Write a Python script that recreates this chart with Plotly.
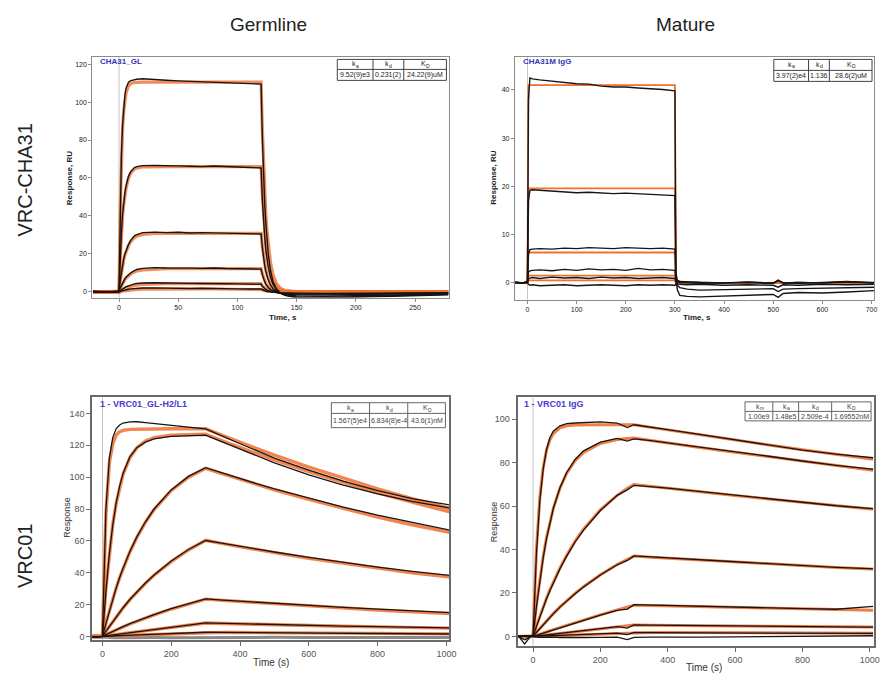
import plotly.graph_objects as go

W, H = 882, 677

# ---------------- Panel 1: CHA31_GL (germline, VRC-CHA31) ----------------
P1_TIME = [-22, -10, 0, 1, 2, 3, 4, 5, 6, 8, 10, 13, 15, 20, 30, 40, 50, 60, 70, 80, 90, 100, 110, 120,
           121, 122, 123, 124, 125, 126, 128, 130, 133, 136, 140, 150, 175, 200, 225, 250, 278]
P1_FIT = [
    [0, 0, 0, 43.5, 69.8, 85.8, 95.5, 101.4, 105, 108.5, 109.8, 110.3, 110.4, 110.5,
     110.5, 110.5, 110.5, 110.5, 110.5, 110.5, 110.5, 110.5, 110.5, 110.5,
     86, 67, 52.2, 40.7, 31.7, 24.7, 15, 9.1, 4.3, 2, 0.7, 0.1, 0, 0, 0, 0, 0],
    [0, 0, 0, 17.1, 29.8, 39.8, 46.2, 51.3, 54.8, 59.9, 62.7, 64.7, 65.3, 65.8,
     66, 66, 66, 66, 66, 66, 66, 66, 66, 66,
     51.4, 40, 31.2, 24.3, 18.9, 14.7, 8.9, 5.4, 2.6, 1.2, 0.4, 0.05, 0, 0, 0, 0, 0],
    [0, 0, 0, 5.6, 10.2, 13.9, 17, 19.5, 21.3, 24.4, 26.6, 28.6, 29.3, 30.3,
     30.8, 30.8, 30.8, 30.8, 30.8, 30.8, 30.8, 30.8, 30.8, 30.8,
     24, 18.7, 14.5, 11.3, 8.8, 6.9, 4.2, 2.5, 1.2, 0.6, 0.2, 0, 0, 0, 0, 0, 0],
    [0, 0, 0, 1.7, 3.1, 4.4, 5.5, 6.5, 7.2, 8.5, 9.5, 10.5, 11, 11.6,
     12.1, 12.2, 12.2, 12.2, 12.2, 12.2, 12.2, 12.2, 12.2, 12.2,
     9.5, 7.4, 5.8, 4.5, 3.5, 2.7, 1.7, 1, 0.5, 0.2, 0.1, 0, 0, 0, 0, 0, 0],
    [0, 0, 0, 0.5, 0.9, 1.3, 1.6, 1.9, 2.2, 2.6, 3, 3.4, 3.6, 3.9,
     4.2, 4.3, 4.3, 4.3, 4.3, 4.3, 4.3, 4.3, 4.3, 4.3,
     3.3, 2.6, 2, 1.6, 1.2, 1, 0.6, 0.4, 0.2, 0.1, 0, 0, 0, 0, 0, 0, 0],
    [0, 0, 0, 0.2, 0.3, 0.4, 0.5, 0.6, 0.7, 0.9, 1, 1.2, 1.3, 1.4,
     1.5, 1.5, 1.5, 1.5, 1.5, 1.5, 1.5, 1.5, 1.5, 1.5,
     1.2, 0.9, 0.7, 0.5, 0.4, 0.3, 0.2, 0.1, 0.05, 0, 0, 0, 0, 0, 0, 0, 0],
]
P1_DATA = [
    [0.3, -0.2, 0.5, 45, 72, 88, 98, 104, 107.5, 110.5, 111.3, 111.8, 112, 112.3,
     111.8, 111.5, 111.2, 111, 110.8, 110.5, 110.3, 110.1, 110, 109.5,
     82, 62, 47, 36, 27, 20, 11, 5.5, 1.5, -0.5, -1.8, -3.2, -3.3, -2.8, -2.4, -2, -1.5],
    [0.2, -0.1, 0.3, 18, 31, 41, 47.5, 52.5, 56, 61, 63.5, 65.5, 66, 66.5,
     66.6, 66.3, 66.4, 66.2, 66, 66.3, 66.1, 65.8, 65.6, 65.3,
     49, 37.5, 29, 22, 17, 13, 7.5, 4, 1.2, -0.5, -1.5, -2.8, -2.9, -2.5, -2.1, -1.7, -1.3],
    [0.1, 0, 0.2, 6, 10.8, 14.5, 17.5, 20, 22, 25, 27.3, 29.5, 30.2, 31.2,
     31.5, 31.2, 31.4, 31, 31.2, 31, 30.8, 30.9, 30.6, 30.5,
     23.5, 18, 14, 10.8, 8.2, 6.3, 3.5, 1.8, 0.3, -0.6, -1.3, -2.2, -2.3, -2, -1.7, -1.4, -1.1],
    [0, 0.1, 0.2, 2, 3.5, 4.8, 5.9, 7, 7.8, 9.1, 10.1, 11.2, 11.8, 12.4,
     12.8, 12.6, 12.7, 12.5, 12.4, 12.6, 12.3, 12.2, 12.1, 12,
     9.2, 7, 5.4, 4.1, 3.1, 2.3, 1.2, 0.5, -0.2, -0.7, -1.1, -1.6, -1.7, -1.5, -1.2, -1, -0.8],
    [0.2, 0, 0.1, 0.6, 1.1, 1.6, 2, 2.4, 2.7, 3.2, 3.7, 4.2, 4.4, 4.7,
     4.8, 4.6, 4.7, 4.5, 4.4, 4.5, 4.3, 4.2, 4.1, 4,
     3, 2.3, 1.7, 1.3, 0.9, 0.6, 0.2, -0.1, -0.4, -0.6, -0.8, -1.1, -1.2, -1, -0.9, -0.7, -0.6],
    [0.1, -0.1, 0, 0.3, 0.5, 0.7, 0.9, 1.1, 1.2, 1.4, 1.6, 1.8, 1.9, 2,
     2.1, 1.9, 2, 1.8, 1.9, 1.7, 1.8, 1.6, 1.5, 1.5,
     1.1, 0.8, 0.6, 0.4, 0.2, 0.1, -0.1, -0.2, -0.4, -0.5, -0.6, -0.7, -0.8, -0.7, -0.6, -0.5, -0.4],
]

# ---------------- Panel 2: CHA31M IgG (mature, VRC-CHA31) ----------------
P2_TIME = [-25, -10, 0, 2, 5, 10, 25, 50, 75, 100, 125, 150, 175, 200, 225, 250, 275, 300,
           302, 305, 310, 325, 350, 400, 450, 500, 510, 520, 550, 600, 650, 705]
P2_FIT = [
    [0, 0, 0, 41, 41, 41, 41, 41, 41, 41, 41, 41, 41, 41, 41, 41, 41, 41,
     0, 0, 0, 0, 0, 0, 0, 0, 0, 0, 0, 0, 0, 0],
    [0, 0, 0, 19.6, 19.6, 19.6, 19.6, 19.6, 19.6, 19.6, 19.6, 19.6, 19.6, 19.6, 19.6, 19.6, 19.6, 19.6,
     0, 0, 0, 0, 0, 0, 0, 0, 0, 0, 0, 0, 0, 0],
    [0, 0, 0, 6.3, 6.3, 6.3, 6.3, 6.3, 6.3, 6.3, 6.3, 6.3, 6.3, 6.3, 6.3, 6.3, 6.3, 6.3,
     0, 0, 0, 0, 0, 0, 0, 0, 0, 0, 0, 0, 0, 0],
    [0, 0, 0, 1.5, 1.5, 1.5, 1.5, 1.5, 1.5, 1.5, 1.5, 1.5, 1.5, 1.5, 1.5, 1.5, 1.5, 1.5,
     0, 0, 0, 0, 0, 0, 0, 0, 0, 0, 0, 0, 0, 0],
    [0, 0, 0, 0.5, 0.5, 0.5, 0.5, 0.5, 0.5, 0.5, 0.5, 0.5, 0.5, 0.5, 0.5, 0.5, 0.5, 0.5,
     0, 0, 0, 0, 0, 0, 0, 0, 0, 0, 0, 0, 0, 0],
]
P2_DATA = [
    [0.2, 0, 0.3, 38, 42.5, 42.3, 42.1, 41.8, 41.6, 41.3, 41.2, 40.8, 40.6, 40.6, 40.4, 40.3, 40.1, 39.8,
     2, 0.5, 0.3, 0.2, 0.1, 0, 0.1, -0.1, 0.5, 0, 0.1, 0, 0.2, 0.1],
    [0.1, 0, 0.2, 17, 19.2, 19.3, 19.2, 19, 18.8, 18.7, 18.8, 18.6, 18.5, 18.6, 18.5, 18.4, 18.3, 18.1,
     1, -1.5, -2.6, -2.8, -2.9, -2.7, -2.6, -2.4, -3, -2.2, -2, -2.1, -1.9, -1.6],
    [0, 0.1, 0.1, 6, 6.9, 7, 7.1, 7, 7.2, 7.1, 7.3, 7.2, 7.1, 7.3, 7.2, 7.1, 7.2, 7,
     0.3, -0.5, -1, -1.3, -1.5, -1.4, -1.3, -1.2, -1.8, -1.3, -1.2, -1.1, -1, -0.9],
    [0.1, 0, 0.2, 2.2, 2.5, 2.6, 2.7, 2.5, 2.8, 2.6, 2.9, 2.7, 2.8, 2.6, 3, 2.7, 2.8, 2.6,
     0.5, 0.2, 0.3, 0.2, 0.1, 0, 0.2, -0.1, 0.6, 0, -0.1, 0.1, 0.3, 0],
    [0, -0.1, 0.1, 0.8, 1, 1.1, 0.9, 1.2, 1, 1.1, 0.9, 1.2, 1, 1.1, 0.9, 1, 1.1, 0.9,
     0.2, -0.2, -0.3, -0.4, -0.3, -0.5, -0.4, -0.5, -0.9, -0.4, -0.5, -0.3, -0.4, -0.3],
    [0.1, 0, 0, -0.3, -0.5, -0.4, -0.6, -0.5, -0.4, -0.6, -0.5, -0.4, -0.5, -0.6, -0.4, -0.5, -0.4, -0.5,
     -0.3, 0.2, 0.1, 0, -0.1, 0, 0.1, 0, 0.4, 0, 0.1, 0, 0.2, 0],
]

# ---------------- Panel 3: VRC01_GL-H2/L1 (germline, VRC01) ----------------
P3_TIME = [-30, -10, 0, 10, 20, 30, 40, 50, 60, 80, 100, 125, 150, 200, 250, 300,
           350, 400, 450, 500, 600, 700, 800, 900, 1000, 1010]
P3_FIT = [
    [0, 0, 0, 77, 109, 121, 126.5, 128.6, 129.4, 130, 130.2, 130.3, 130.3, 130.4, 130.5, 130.5,
     126.1, 121.9, 117.8, 113.8, 106.3, 99.3, 92.7, 86.6, 80.9, 80.3],
    [0, 0, 0, 30.1, 53, 70.5, 83.8, 94.1, 101.9, 112.4, 118.5, 122.7, 124.8, 126.4, 126.8, 127,
     122.7, 118.6, 114.6, 110.8, 103.5, 96.6, 90.2, 84.3, 78.7, 78.2],
    [0, 0, 0, 8.5, 16.4, 23.8, 30.6, 36.9, 42.7, 53.2, 62.3, 71.7, 79.6, 91.7, 100, 105.6,
     102.1, 98.6, 95.3, 92.1, 86, 80.3, 75, 70.1, 65.8, 65.4],
    [0, 0, 0, 3.3, 6.4, 9.4, 12.4, 15.2, 17.9, 23.1, 27.8, 33.3, 38.4, 47, 54.3, 60.3,
     58.3, 56.3, 54.4, 52.6, 49.1, 45.9, 42.8, 40, 37.6, 37.3],
    [0, 0, 0, 1, 2.1, 3.1, 4.1, 5, 6, 7.8, 9.5, 11.6, 13.5, 17.2, 20.4, 23.4,
     22.6, 21.9, 21.1, 20.4, 19.1, 17.8, 16.6, 15.5, 14.5, 14.4],
    [0, 0, 0, 0.3, 0.6, 0.9, 1.2, 1.5, 1.8, 2.4, 3, 3.7, 4.4, 5.8, 7.1, 8.4,
     8.1, 7.8, 7.6, 7.3, 6.8, 6.4, 6, 5.6, 5.2, 5.2],
    [0, 0, 0, 0.1, 0.2, 0.3, 0.35, 0.45, 0.55, 0.7, 0.9, 1.1, 1.3, 1.8, 2.2, 2.6,
     2.5, 2.4, 2.35, 2.3, 2.1, 2, 1.85, 1.7, 1.6, 1.6],
]
P3_DATA = [
    [-0.5, -0.3, 0, 80, 112, 125, 130.5, 132.8, 134, 134.7, 134.8, 134.3, 133.8, 132.6, 131.4, 130.3,
     125.5, 121, 116.5, 112, 104.5, 97.5, 91.5, 86.5, 82.9, 82.5],
    [-0.3, -0.2, 0, 28, 52, 70, 84, 94.5, 102.5, 113, 118.5, 122, 124, 125.6, 126.2, 126.4,
     122, 117.5, 113.2, 109, 101.5, 95, 89.5, 84.8, 81, 80.6],
    [-0.3, -0.2, 0, 8, 16, 23.5, 30.5, 37, 43, 53.5, 62.5, 72, 80, 92, 100.5, 106,
     102.5, 99, 95.8, 92.6, 86.8, 81.2, 76.2, 71.5, 67.2, 66.8],
    [-0.2, -0.3, 0, 3.2, 6.3, 9.4, 12.5, 15.3, 18, 23.3, 28, 33.5, 38.6, 47.3, 54.6, 60.2,
     58.4, 56.5, 54.7, 53, 49.6, 46.5, 43.5, 40.8, 38.6, 38.3],
    [-0.4, -0.2, 0, 1.1, 2.2, 3.2, 4.2, 5.1, 6.1, 8, 9.7, 11.8, 13.7, 17.4, 20.7, 23.6,
     22.8, 22.1, 21.4, 20.7, 19.5, 18.2, 17.1, 16, 15, 14.9],
    [-0.3, -0.4, 0, 0.3, 0.6, 0.9, 1.2, 1.5, 1.8, 2.4, 3, 3.7, 4.4, 5.8, 7.1, 8.5,
     8.2, 7.9, 7.6, 7.3, 6.9, 6.5, 6.1, 5.8, 5.5, 5.4],
    [-0.4, -0.3, 0, 0.1, 0.2, 0.3, 0.4, 0.5, 0.6, 0.7, 0.9, 1.1, 1.3, 1.8, 2.2, 2.6,
     2.5, 2.4, 2.3, 2.2, 2.1, 1.9, 1.8, 1.6, 1.5, 1.5],
]
P3_BLANK = [-0.6, -0.5, -0.6, -0.7, -0.6, -0.8, -0.7, -0.6, -0.7, -0.8, -0.7, -0.6, -0.7,
            -0.8, -0.7, -0.6, -0.7, -0.8, -0.7, -0.6, -0.7, -0.8, -0.7, -0.6, -0.7, -0.7]

# ---------------- Panel 4: VRC01 IgG (mature, VRC01) ----------------
P4_TIME = [-45, -25, -5, 0, 10, 20, 30, 40, 50, 60, 80, 100, 125, 150, 200, 250, 280, 300,
           350, 400, 500, 600, 700, 800, 900, 1000, 1010]
P4_FIT = [
    [0, 0, 0, 0, 40, 63.8, 77.6, 85.8, 90.6, 93.4, 96.1, 97, 97.4, 97.5, 97.5, 97.5, 97.5, 97.5,
     96.3, 95.1, 92.7, 90.4, 88.2, 86, 83.9, 81.8, 81.6],
    [0, 0, 0, 0, 14.4, 26.5, 36.8, 45.4, 52.7, 58.9, 68.3, 75.2, 81, 84.8, 88.9, 90.7, 91.2, 91.4,
     90.3, 89.1, 86.9, 84.8, 82.7, 80.6, 78.6, 76.7, 76.5],
    [0, 0, 0, 0, 4.8, 9.3, 13.6, 17.6, 21.4, 25, 31.5, 37.4, 43.9, 49.4, 58.3, 65, 68.3, 70,
     69.1, 68.3, 66.6, 64.9, 63.3, 61.7, 60.2, 58.7, 58.6],
    [0, 0, 0, 0, 1.9, 3.7, 5.5, 7.2, 8.9, 10.5, 13.6, 16.4, 19.8, 22.9, 28.4, 33.1, 35.5, 37,
     36.5, 36.1, 35.2, 34.3, 33.5, 32.6, 31.8, 31, 31],
    [0, 0, 0, 0, 0.5, 1.1, 1.6, 2.1, 2.6, 3.1, 4.1, 5.1, 6.3, 7.5, 9.9, 12.2, 13.5, 14.4,
     14.2, 14, 13.7, 13.4, 13, 12.7, 12.4, 12.1, 12],
    [0, 0, 0, 0, 0.17, 0.35, 0.52, 0.7, 0.87, 1.04, 1.4, 1.75, 2.2, 2.6, 3.5, 4.4, 4.9, 5.2,
     5.1, 5.1, 4.9, 4.8, 4.7, 4.6, 4.5, 4.4, 4.3],
    [0, 0, 0, 0, 0.06, 0.12, 0.18, 0.24, 0.3, 0.36, 0.48, 0.6, 0.75, 0.9, 1.2, 1.5, 1.7, 1.8,
     1.8, 1.8, 1.7, 1.7, 1.6, 1.6, 1.55, 1.5, 1.5],
]
P4_DATA = [
    [0.5, -3.5, 0.5, 0, 38, 62, 77, 86, 91.5, 94.5, 97, 98, 98.3, 98.5, 98.8, 98.3, 96.2, 97.5,
     96.5, 95.3, 93, 90.5, 88.2, 85.8, 84, 82.5, 82.3],
    [0, 0.2, 0, 0, 13.5, 25.5, 36, 45, 52.5, 58.8, 68.5, 75.5, 81.5, 85.5, 89.5, 91.2, 90, 91,
     90.2, 89.2, 87.2, 85.2, 83, 80.8, 78.8, 77.2, 77],
    [0, 0.1, 0, 0, 4.5, 9, 13.3, 17.3, 21, 24.6, 31.2, 37, 43.5, 49, 58, 65, 67.5, 69.6,
     69, 68.3, 66.7, 65.1, 63.4, 61.8, 60.2, 59, 58.9],
    [0, 0, 0.1, 0, 1.8, 3.6, 5.4, 7.1, 8.8, 10.4, 13.5, 16.3, 19.7, 22.8, 28.3, 33, 35, 37.1,
     36.6, 36.2, 35.3, 34.4, 33.5, 32.6, 31.8, 31.2, 31.1],
    [0, 0, 0, 0, 0.5, 1, 1.5, 2, 2.5, 3, 4, 5, 6.2, 7.4, 9.8, 12, 12.6, 14.6,
     14.4, 14.1, 13.8, 13.5, 13.1, 12.8, 12.5, 13.5, 13.8],
    [0, 0, 0, 0, 0.2, 0.4, 0.5, 0.7, 0.9, 1, 1.4, 1.8, 2.2, 2.7, 3.6, 4.5, 3.8, 5.3,
     5.2, 5.1, 5, 4.8, 4.7, 4.6, 4.4, 4.3, 4.3],
    [0, 0, 0, 0, 0.1, 0.1, 0.2, 0.3, 0.3, 0.4, 0.5, 0.6, 0.8, 0.9, 1.2, 1.5, 0.8, 1.8,
     1.7, 1.7, 1.6, 1.6, 1.5, 1.5, 1.4, 1.4, 1.4],
    [0, -1.5, 0, 0, -0.3, -0.4, -0.3, -0.5, -0.4, -0.3, -0.5, -0.4, -0.3, -0.5, -0.4, -0.3, -1.5, -0.4,
     -0.3, -0.2, -0.3, -0.2, -0.1, 0, 0.2, 0.3, 0.3],
]

# ---------------- Text content ----------------
COL_TITLES = ["Germline", "Mature"]
ROW_TITLES = ["VRC-CHA31", "VRC01"]
PANEL_NAMES = ["CHA31_GL", "CHA31M IgG", "1 - VRC01_GL-H2/L1", "1 - VRC01 IgG"]
# header symbol and its subscript
TABLE_HEADERS = [
    [("k", "a"), ("k", "d"), ("K", "D")],
    [("k", "a"), ("k", "d"), ("K", "D")],
    [("k", "a"), ("k", "d"), ("K", "D")],
    [("k", "m"), ("k", "a"), ("k", "d"), ("K", "D")],
]
TABLE_VALUES = [
    ["9.52(9)e3", "0.231(2)", "24.22(9)uM"],
    ["3.97(2)e4", "1.136", "28.6(2)uM"],
    ["1.567(5)e4", "6.834(8)e-4", "43.6(1)nM"],
    ["1.00e9", "1.48e5", "2.509e-4", "1.69552nM"],
]

for t, group in [(P1_TIME, P1_FIT + P1_DATA), (P2_TIME, P2_FIT + P2_DATA),
                 (P3_TIME, P3_FIT + P3_DATA + [P3_BLANK]), (P4_TIME, P4_FIT + P4_DATA)]:
    for s in group:
        assert len(s) == len(t), (len(s), len(t))

FONT = "Liberation Sans, Arial, sans-serif"
ORANGE = "#f07030"
BLACK = "#151515"


def px(x):
    return x / W


def py(y):
    return 1 - y / H


fig = go.Figure()


def add_lines(t, series, xa, ya, color, width, opacity=1.0):
    for s in series:
        fig.add_trace(go.Scatter(x=t, y=s, mode="lines", xaxis=xa, yaxis=ya,
                                 line=dict(color=color, width=width), opacity=opacity,
                                 hoverinfo="skip", showlegend=False))


add_lines(P1_TIME, P1_FIT, "x", "y", ORANGE, 3.2, 0.8)
add_lines(P1_TIME, P1_DATA, "x", "y", BLACK, 1.4)
add_lines(P2_TIME, P2_FIT, "x2", "y2", ORANGE, 1.8)
add_lines(P2_TIME, P2_DATA, "x2", "y2", BLACK, 1.4)
add_lines(P3_TIME, [P3_BLANK], "x3", "y3", "#8a8a8a", 3)
add_lines(P3_TIME, P3_FIT, "x3", "y3", ORANGE, 3.4, 0.85)
add_lines(P3_TIME, P3_DATA, "x3", "y3", BLACK, 1.3)
add_lines(P4_TIME, P4_FIT, "x4", "y4", ORANGE, 3.0, 0.9)
add_lines(P4_TIME, P4_DATA, "x4", "y4", BLACK, 1.3)


def axis(domain, rng, anchor, tickvals, top):
    return dict(domain=domain, range=rng, anchor=anchor, tickvals=tickvals,
                showline=True, mirror=True,
                linecolor="#8c8c8c" if top else "#6a6a6a",
                linewidth=1 if top else 2,
                ticks="outside", ticklen=3 if top else 4,
                tickcolor="#8c8c8c" if top else "#6a6a6a",
                tickfont=dict(family=FONT, size=7 if top else 9,
                              color="#222" if top else "#555"),
                showgrid=False, zeroline=False, fixedrange=True)


fig.update_layout(
    width=W, height=H, margin=dict(l=0, r=0, t=0, b=0),
    paper_bgcolor="white", plot_bgcolor="white", showlegend=False,
    xaxis=axis([px(93), px(453)], [-22.6, 279], "y", [0, 50, 100, 150, 200, 250], True),
    yaxis=axis([py(298), py(57)], [-3.0, 123.8], "x", [0, 20, 40, 60, 80, 100, 120], True),
    xaxis2=axis([px(519), px(881)], [-25.6, 705], "y2", [0, 100, 200, 300, 400, 500, 600, 700], True),
    yaxis2=axis([py(300), py(57)], [-3.46, 46.85], "x2", [0, 10, 20, 30, 40], True),
    xaxis3=axis([px(93), px(453)], [-29.7, 1008.7], "y3", [0, 200, 400, 600, 800, 1000], False),
    yaxis3=axis([py(641), py(398)], [-2.3, 150.1], "x3", [0, 20, 40, 60, 80, 100, 120, 140], False),
    xaxis4=axis([px(521.7), px(881)], [-46, 1012.7], "y4", [0, 200, 400, 600, 800, 1000], False),
    yaxis4=axis([py(646.7), py(398)], [-4.3, 110.1], "x4", [0, 20, 40, 60, 80, 100], False),
)

# injection marker lines at t = 0
for xa, ya in [("x", "y"), ("x2", "y2"), ("x3", "y3"), ("x4", "y4")]:
    fig.add_shape(type="line", xref=xa, yref=ya + " domain", x0=0, x1=0, y0=0, y1=1,
                  line=dict(color="#c4c4c4", width=1), layer="below")

ann = []


def text(x, y, s, size, color="#222", angle=0, xanchor="center", bold=False, pad=1):
    ann.append(dict(x=px(x), y=py(y), xref="paper", yref="paper", text=("<b>%s</b>" % s) if bold else s,
                    showarrow=False, textangle=angle, xanchor=xanchor, yanchor="middle",
                    borderpad=pad, borderwidth=0 if pad == 0 else 1,
                    font=dict(family=FONT, size=size, color=color)))


# column / row titles
text(271, 25, COL_TITLES[0], 19)
text(691, 25, COL_TITLES[1], 19)
text(25, 180, ROW_TITLES[0], 20, angle=-90)
text(25, 557, ROW_TITLES[1], 20, angle=-90)

# axis titles
text(70, 178, "Response, RU", 8, angle=-90, bold=True)
text(285, 318, "Time, s", 8, bold=True)
text(498, 178, "Response, RU", 8, angle=-90, bold=True)
text(703, 318, "Time, s", 8, bold=True)
text(68, 518, "Response", 9, color="#333", angle=-90)
text(273, 663, "Time (s)", 10, color="#333")
text(498, 523, "Response", 9, color="#333", angle=-90)
text(710, 668, "Time (s)", 10, color="#333")

# panel names
text(99, 62, PANEL_NAMES[0], 8, color="#3434b8", xanchor="left", bold=True)
text(525, 62, PANEL_NAMES[1], 8, color="#3434b8", xanchor="left", bold=True)
text(99, 405, PANEL_NAMES[2], 9, color="#4a3ad0", xanchor="left", bold=True)
text(526, 405, PANEL_NAMES[3], 9, color="#4a3ad0", xanchor="left", bold=True)


def table(cols, y0, ym, y1, headers, values, size, color, lcolor):
    fig.add_shape(type="rect", xref="paper", yref="paper", x0=px(cols[0]), x1=px(cols[-1]),
                  y0=py(y1), y1=py(y0), fillcolor="white", line=dict(color=lcolor, width=1))
    fig.add_shape(type="line", xref="paper", yref="paper", x0=px(cols[0]), x1=px(cols[-1]),
                  y0=py(ym), y1=py(ym), line=dict(color=lcolor, width=1))
    for c in cols[1:-1]:
        fig.add_shape(type="line", xref="paper", yref="paper", x0=px(c), x1=px(c),
                      y0=py(y1), y1=py(y0), line=dict(color=lcolor, width=1))
    for i in range(len(headers)):
        xc = (cols[i] + cols[i + 1]) / 2
        yh = (y0 + ym) / 2
        sym, sub = headers[i]
        # main symbol (right-aligned at centre) and a smaller, lowered subscript
        text(xc + 1, yh - 0.5, sym, size, color=color, xanchor="right", pad=0)
        text(xc + 1, yh + 1.5, sub, size - 2, color=color, xanchor="left", pad=0)
        text(xc, (ym + y1) / 2, values[i], size, color=color)


table([340, 376, 407, 450], 59.5, 69.5, 80.5, TABLE_HEADERS[0], TABLE_VALUES[0], 7, "#222", "#444")
table([780, 815, 836, 879], 59.5, 70.5, 81.5, TABLE_HEADERS[1], TABLE_VALUES[1], 7, "#222", "#444")
table([334, 372.5, 411, 449], 403.3, 414, 428.3, TABLE_HEADERS[2], TABLE_VALUES[2], 7, "#444", "#666")
table([751, 779, 805, 838.3, 878], 402.5, 412, 421.5, TABLE_HEADERS[3], TABLE_VALUES[3], 7, "#444", "#666")

fig.update_layout(annotations=ann)
fig.write_html("out.html")
